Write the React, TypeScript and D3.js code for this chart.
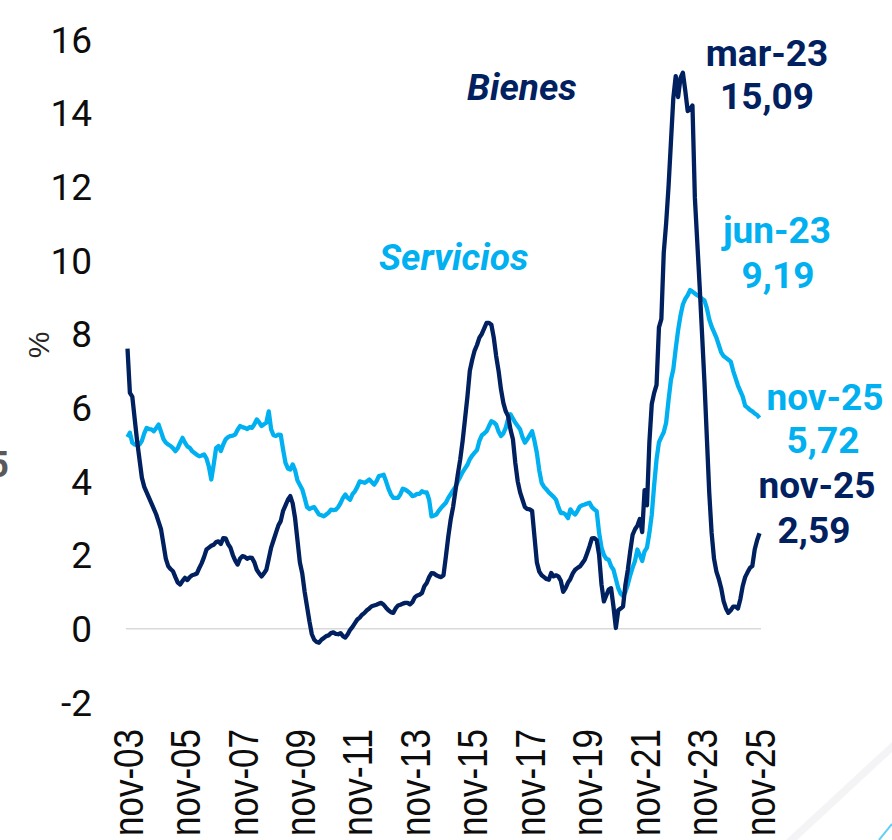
import React from "react";
import * as d3 from "d3";

// monthly, nov-03 .. nov-25
const bienes = [
  7.6, 6.4, 6.3, 5.7, 5.1, 4.6, 4.1, 3.85, 3.7, 3.55, 3.4, 3.25,
  3.1, 2.9, 2.7, 2.3, 1.9, 1.7, 1.62, 1.56, 1.4, 1.25, 1.2, 1.3,
  1.38, 1.32, 1.4, 1.45, 1.47, 1.5, 1.65, 1.78, 1.95, 2.15, 2.2, 2.25,
  2.28, 2.35, 2.37, 2.3, 2.46, 2.45, 2.3, 2.2, 2.0, 1.85, 1.74, 1.9,
  1.97, 1.95, 1.9, 1.93, 1.92, 1.8, 1.6, 1.5, 1.42, 1.5, 1.6, 1.9,
  2.2, 2.4, 2.6, 2.8, 2.92, 3.2, 3.35, 3.5, 3.6, 3.4, 3.0, 2.4,
  1.8, 1.5, 1.0, 0.6, 0.2, -0.15, -0.3, -0.36, -0.38, -0.3, -0.25, -0.2,
  -0.18, -0.12, -0.1, -0.14, -0.15, -0.12, -0.2, -0.24, -0.15, -0.03, 0.05, 0.15,
  0.25, 0.3, 0.38, 0.43, 0.5, 0.55, 0.61, 0.63, 0.65, 0.68, 0.7, 0.65,
  0.57, 0.5, 0.45, 0.43, 0.55, 0.63, 0.65, 0.68, 0.7, 0.7, 0.66, 0.72,
  0.85, 0.9, 0.92, 0.97, 1.15, 1.24, 1.4, 1.51, 1.5, 1.45, 1.42, 1.4,
  1.45, 1.96, 2.5, 2.96, 3.3, 3.75, 4.2, 4.6, 5.1, 5.7, 6.3, 7.0,
  7.3, 7.55, 7.7, 7.9, 8.0, 8.15, 8.3, 8.3, 8.25, 7.9, 7.4, 7.0,
  6.5, 6.13, 5.9, 5.77, 5.4, 5.14, 4.5, 4.0, 3.7, 3.5, 3.3, 3.25,
  3.24, 3.2, 2.5, 1.8, 1.55, 1.45, 1.4, 1.35, 1.33, 1.51, 1.42, 1.45,
  1.42, 1.3, 1.0, 1.1, 1.25, 1.35, 1.5, 1.6, 1.65, 1.69, 1.78, 1.87,
  2.05, 2.24, 2.45, 2.46, 2.4, 2.0, 1.2, 0.74, 0.9, 1.06, 1.1, 0.6,
  0.02, 0.5, 0.55, 0.6, 1.2, 1.6, 2.1, 2.55, 2.7, 2.8, 2.98, 2.62,
  3.76, 3.35, 5.06, 6.1, 6.4, 6.62, 8.18, 8.4, 10.2, 11.0, 12.0, 13.2,
  14.4, 15.0, 14.43, 14.95, 15.09, 14.6, 14.05, 14.1, 14.2, 11.7, 10.5, 9.3,
  8.0, 6.7, 5.2, 3.7, 2.6, 1.9, 1.55, 1.35, 1.1, 0.75, 0.55, 0.43,
  0.5, 0.6, 0.6, 0.55, 0.8, 1.16, 1.4, 1.53, 1.65, 1.7, 2.15, 2.4,
  2.59,
];

const servicios = [
  5.2, 5.32, 5.05, 5.0, 4.98, 5.0, 5.1, 5.3, 5.45, 5.42, 5.41, 5.36,
  5.45, 5.54, 5.35, 5.15, 5.05, 5.0, 4.96, 4.9, 4.82, 4.9, 5.05, 5.18,
  5.05, 4.95, 4.91, 4.82, 4.77, 4.72, 4.68, 4.7, 4.73, 4.62, 4.4, 4.05,
  4.45, 4.9, 4.96, 4.82, 5.0, 5.14, 5.2, 5.23, 5.24, 5.27, 5.4, 5.5,
  5.47, 5.45, 5.42, 5.47, 5.45, 5.55, 5.68, 5.6, 5.5, 5.55, 5.59, 5.9,
  5.41, 5.25, 5.23, 5.27, 5.26, 4.86, 4.5, 4.35, 4.32, 4.46, 4.3, 4.02,
  3.9, 3.78, 3.55, 3.3, 3.25, 3.28, 3.3, 3.2, 3.1, 3.08, 3.05, 3.1,
  3.15, 3.23, 3.22, 3.23, 3.3, 3.41, 3.55, 3.64, 3.55, 3.5, 3.65, 3.73,
  3.85, 4.0, 3.98, 3.96, 4.0, 4.05, 3.98, 3.91, 4.0, 4.14, 4.16, 4.18,
  4.0, 3.8, 3.65, 3.55, 3.55, 3.55, 3.65, 3.8, 3.78, 3.73, 3.68, 3.6,
  3.62, 3.66, 3.66, 3.73, 3.7, 3.7, 3.5, 3.05, 3.07, 3.1, 3.2, 3.28,
  3.35, 3.42, 3.55, 3.65, 3.75, 3.85, 4.0, 4.12, 4.25, 4.35, 4.45, 4.6,
  4.7, 4.78, 4.85, 5.1, 5.25, 5.3, 5.36, 5.5, 5.63, 5.6, 5.54, 5.35,
  5.23, 5.3, 5.45, 5.7, 5.82, 5.7, 5.59, 5.5, 5.41, 5.2, 5.05, 5.14,
  5.25, 5.36, 5.1, 4.77, 4.3, 3.96, 3.85, 3.78, 3.7, 3.64, 3.58, 3.5,
  3.3, 3.14, 3.14, 3.1, 3.0, 3.24, 3.15, 3.1, 3.2, 3.32, 3.35, 3.37,
  3.4, 3.42, 3.3, 3.24, 3.19, 2.6, 2.2, 2.0, 1.9, 1.87, 1.7, 1.6,
  1.35, 1.1, 0.95, 0.89, 1.0, 1.2, 1.45, 1.66, 1.84, 2.15, 2.0, 1.84,
  2.1, 2.2, 2.6, 3.1, 3.9, 4.6, 5.06, 5.2, 5.33, 5.59, 6.2, 6.75,
  7.04, 7.6, 8.1, 8.5, 8.8, 8.95, 9.05, 9.19, 9.15, 9.1, 9.05, 9.01,
  8.95, 8.91, 8.7, 8.4, 8.2, 8.05, 7.9, 7.7, 7.5, 7.4, 7.35, 7.3,
  7.25, 7.0, 6.8, 6.6, 6.45, 6.3, 6.05, 6.0, 5.94, 5.9, 5.84, 5.8,
  5.72,
];

const xTickLabels = [
  "nov-03", "nov-05", "nov-07", "nov-09", "nov-11", "nov-13",
  "nov-15", "nov-17", "nov-19", "nov-21", "nov-23", "nov-25",
];
const yTicks = [-2, 0, 2, 4, 6, 8, 10, 12, 14, 16];

const NAVY = "#002060";
const CYAN = "#00b0f0";

const months = d3.range(bienes.length);

export default function App() {
  const x = d3.scaleLinear().domain([0, months.length - 1]).range([127.5, 759.5]);
  const y = d3.scaleLinear().domain([-2, 16]).range([702.4, 39.2]);

  const line = d3
    .line<number>()
    .x((_, i) => x(i))
    .y((d) => y(d))
    .curve(d3.curveLinear);

  const bold = { fontFamily: "Roboto, sans-serif", fontWeight: 700, fontSize: 37 };

  return (
    <svg
      width={892}
      height={840}
      style={{ position: "absolute", left: 0, top: 0, background: "#fff" }}
    >
      {/* decoration at bottom right */}
      <polygon points="786,840 892,742 892,752 797,840" fill="#f4f4f6" />
      <line x1={879} y1={840} x2={892} y2={824} stroke={CYAN} strokeWidth={2} opacity={0.6} />
      <text x={9} y={477} textAnchor="end" fill="#595959" style={{ ...bold, fontSize: 36 }}>5</text>

      {/* zero line */}
      <line x1={126} x2={761} y1={y(0)} y2={y(0)} stroke="#d9d9d9" strokeWidth={1.5} />

      {/* y axis ticks */}
      {yTicks.map((t) => (
        <text
          key={t}
          x={92}
          y={y(t)}
          dy="0.36em"
          textAnchor="end"
          fill="#0d0d0d"
          style={{ fontFamily: "Roboto, sans-serif", fontSize: 37 }}
        >
          {t}
        </text>
      ))}
      <text
        transform="translate(38,345) rotate(-90)"
        dy="0.35em"
        textAnchor="middle"
        fill="#262626"
        style={{ fontFamily: "'Liberation Sans', Arial, sans-serif", fontSize: 30 }}
      >
        %
      </text>

      {/* x axis ticks */}
      {xTickLabels.map((lab, k) => (
        <text
          key={lab}
          transform={`translate(${x(k * 24)},729) rotate(-90)`}
          dy="0.36em"
          textAnchor="end"
          fill="#0d0d0d"
          textLength={107}
          lengthAdjust="spacingAndGlyphs"
          style={{ fontFamily: "'Liberation Sans Narrow', 'Liberation Sans', Arial, sans-serif", fontSize: 42 }}
        >
          {lab}
        </text>
      ))}

      {/* series */}
      <path d={line(servicios) ?? ""} fill="none" stroke={CYAN} strokeWidth={4.3} strokeLinejoin="round" />
      <path d={line(bienes) ?? ""} fill="none" stroke={NAVY} strokeWidth={4.3} strokeLinejoin="round" />

      {/* labels */}
      <text x={467} y={100} fill={NAVY} fontStyle="italic" style={bold}>Bienes</text>
      <text x={379} y={270} fill={CYAN} fontStyle="italic" style={bold}>Servicios</text>

      <text x={767} y={66} textAnchor="middle" fill={NAVY} style={bold}>mar-23</text>
      <text x={767} y={109} textAnchor="middle" fill={NAVY} style={bold}>15,09</text>

      <text x={777} y={243} textAnchor="middle" fill={CYAN} style={bold}>jun-23</text>
      <text x={778} y={288} textAnchor="middle" fill={CYAN} style={bold}>9,19</text>

      <text x={825} y={410} textAnchor="middle" fill={CYAN} style={bold}>nov-25</text>
      <text x={823} y={453} textAnchor="middle" fill={CYAN} style={bold}>5,72</text>

      <text x={817} y={498} textAnchor="middle" fill={NAVY} style={bold}>nov-25</text>
      <text x={814} y={543} textAnchor="middle" fill={NAVY} style={bold}>2,59</text>
    </svg>
  );
}
